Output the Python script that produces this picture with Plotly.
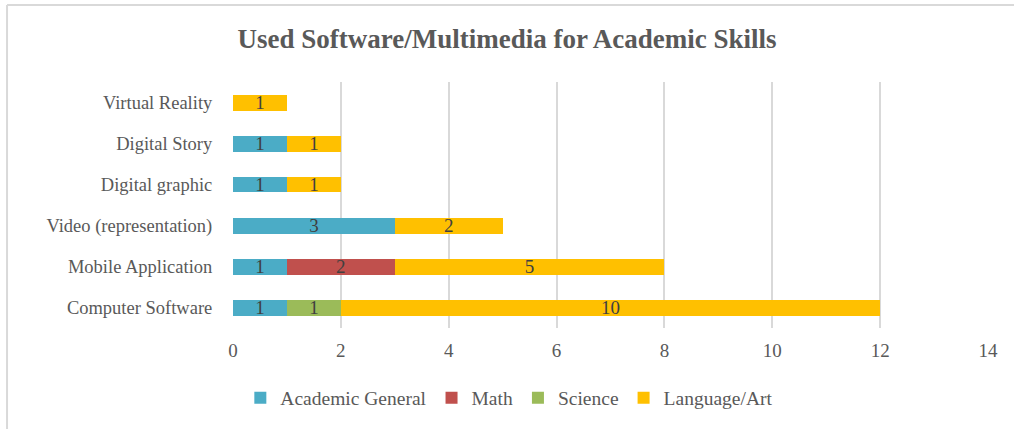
import plotly.graph_objects as go

categories = ['Computer Software', 'Mobile Application', 'Video (representation)',
              'Digital graphic', 'Digital Story', 'Virtual Reality']
academic_general = [1, 1, 3, 1, 1, None]
math = [None, 2, None, None, None, None]
science = [1, None, None, None, None, None]
language_art = [10, 5, 2, 1, 1, 1]

series = [
    ('Academic General', academic_general, '#4BACC6'),
    ('Math', math, '#C0504D'),
    ('Science', science, '#9BBB59'),
    ('Language/Art', language_art, '#FFC000'),
]

FONT = 'Liberation Serif'
GREY = '#595959'

fig = go.Figure()
for name, vals, color in series:
    fig.add_trace(go.Bar(
        y=categories, x=vals, name=name, orientation='h',
        marker=dict(color=color, line=dict(width=0)),
        text=[str(v) if v else '' for v in vals],
        textposition='inside', insidetextanchor='middle', textangle=0,
        constraintext='none',
        textfont=dict(family=FONT, size=19, color='#404040'),
    ))

# chart border (only the left/top edges sit inside the frame)
bx, by = -0.2993, 1.313
fig.add_shape(type='line', xref='paper', yref='paper', x0=bx, x1=bx, y0=-1, y1=by,
              line=dict(color='#D9D9D9', width=2))
fig.add_shape(type='line', xref='paper', yref='paper', x0=bx, x1=2, y0=by, y1=by,
              line=dict(color='#D9D9D9', width=2))

fig.update_layout(
    width=1014, height=429,
    barmode='stack', bargap=0.61,
    plot_bgcolor='white', paper_bgcolor='white',
    font=dict(family=FONT, color=GREY, size=18),
    title=dict(text='<b>Used Software/Multimedia for Academic Skills</b>',
               x=0.5, xanchor='center', y=0.91, yanchor='middle',
               font=dict(family=FONT, size=27, color=GREY)),
    margin=dict(l=233, r=26, t=82, b=101),
    xaxis=dict(range=[0, 14], dtick=2, showgrid=True, gridcolor='#D9D9D9', gridwidth=1.5,
               zeroline=False, showline=False, tickfont=dict(size=19, color=GREY),
               ticks='outside', ticklen=5, tickcolor='white'),
    yaxis=dict(showgrid=False, zeroline=False, showline=False,
               tickfont=dict(size=18.5, color=GREY),
               ticks='outside', ticklen=16, tickcolor='white'),
    legend=dict(orientation='h', x=0.366, xanchor='center', y=-0.285, yanchor='middle',
                font=dict(size=19.5, color=GREY), traceorder='normal',
                itemwidth=30),
    showlegend=True,
)

fig.write_html('out.html', config={'displayModeBar': False},
               post_script="document.body.style.margin='0';")
